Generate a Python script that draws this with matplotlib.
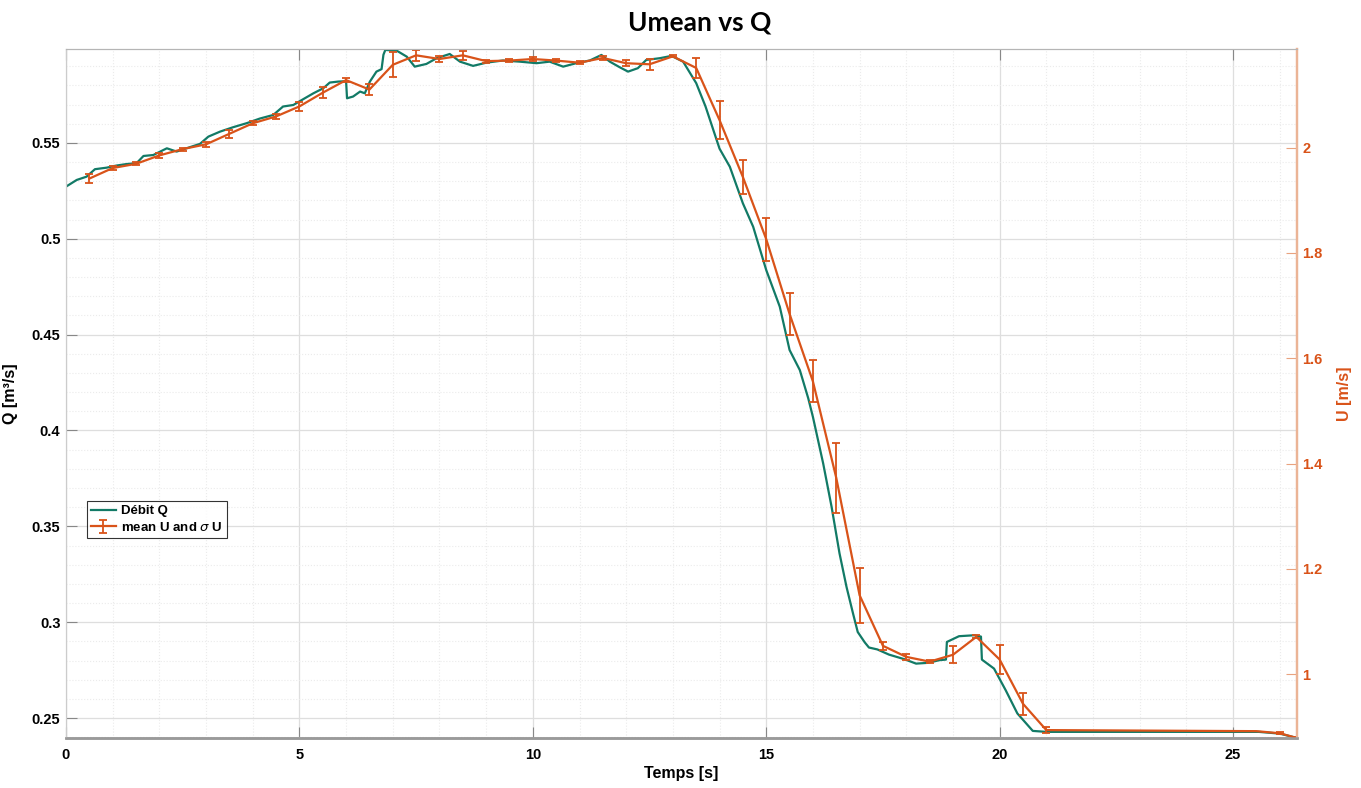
import numpy as np
import matplotlib
matplotlib.use("Agg")
import matplotlib.pyplot as plt
from matplotlib.ticker import MultipleLocator, FormatStrFormatter

# Debit Q (left axis)
t_q = [0.00, 0.23, 0.44, 0.62, 0.87, 1.08, 1.30, 1.51, 1.66, 1.87,
       2.16, 2.37, 2.58, 2.87, 3.05, 3.30, 3.58, 3.87, 4.15, 4.44,
       4.65, 4.87, 5.08, 5.30, 5.51, 5.65, 5.83, 6.00, 6.02, 6.15,
       6.30, 6.40, 6.51, 6.65, 6.76, 6.80, 6.84, 7.08, 7.30, 7.47,
       7.72, 7.94, 8.22, 8.44, 8.72, 9.01, 9.36, 9.72, 10.08, 10.36,
       10.65, 10.93, 11.22, 11.47, 11.65, 11.86, 12.04, 12.25, 12.43, 12.72,
       12.97, 13.22, 13.50, 13.70, 14.00, 14.22, 14.50, 14.72, 15.00, 15.29,
       15.50, 15.72, 15.90, 16.00, 16.22, 16.40, 16.57, 16.72, 16.86, 16.96,
       17.11, 17.20, 17.38, 17.63, 17.96, 18.21, 18.46, 18.71, 18.85, 18.87,
       19.13, 19.46, 19.60, 19.62, 19.88, 20.13, 20.38, 20.71, 21.00, 25.55,
       26.00, 26.37]
q = [0.5272, 0.5307, 0.5324, 0.5363, 0.5371, 0.5382, 0.5390, 0.5394, 0.5432, 0.5437,
     0.5472, 0.5455, 0.5472, 0.5495, 0.5533, 0.5559, 0.5582, 0.5603, 0.5627, 0.5646,
     0.5690, 0.5698, 0.5728, 0.5759, 0.5785, 0.5815, 0.5820, 0.5822, 0.5733, 0.5742,
     0.5768, 0.5759, 0.5820, 0.5872, 0.5885, 0.5960, 0.5985, 0.5982, 0.5950, 0.5898,
     0.5912, 0.5942, 0.5964, 0.5924, 0.5902, 0.5919, 0.5930, 0.5924, 0.5916, 0.5924,
     0.5898, 0.5916, 0.5930, 0.5959, 0.5924, 0.5895, 0.5872, 0.5890, 0.5933, 0.5942,
     0.5954, 0.5924, 0.5812, 0.5690, 0.5470, 0.5376, 0.5185, 0.5063, 0.4837, 0.4646,
     0.4420, 0.4315, 0.4168, 0.4071, 0.3828, 0.3602, 0.3359, 0.3184, 0.3045, 0.2949,
     0.2895, 0.2868, 0.2858, 0.2831, 0.2807, 0.2784, 0.2788, 0.2802, 0.2805, 0.2897,
     0.2927, 0.2932, 0.2925, 0.2805, 0.2758, 0.2645, 0.2524, 0.2433, 0.2428, 0.2428,
     0.2419, 0.2396]

# mean U and sigma U (right axis)
t_u = [0.5, 1.0, 1.5, 2.0, 2.5, 3.0, 3.5, 4.0, 4.5, 5.0,
       5.5, 6.0, 6.5, 7.0, 7.5, 8.0, 8.5, 9.0, 9.5, 10.0,
       10.5, 11.0, 11.5, 12.0, 12.5, 13.0, 13.5, 14.0, 14.5, 15.0,
       15.5, 16.0, 16.5, 17.0, 17.5, 18.0, 18.5, 19.0, 19.5, 20.0,
       20.5, 21.0, 25.5, 26.0, 26.37]
u_mean = [1.941, 1.961, 1.969, 1.985, 1.997, 2.006, 2.026, 2.046, 2.059, 2.078,
          2.104, 2.128, 2.110, 2.157, 2.175, 2.168, 2.175, 2.164, 2.165, 2.168,
          2.165, 2.161, 2.170, 2.160, 2.158, 2.173, 2.151, 2.052, 1.944, 1.826,
          1.684, 1.556, 1.373, 1.150, 1.054, 1.033, 1.024, 1.037, 1.071, 1.028,
          0.944, 0.894, 0.892, 0.888, 0.879]
u_std = [0.008, 0.003, 0.003, 0.004, 0.003, 0.005, 0.008, 0.004, 0.005, 0.008,
         0.010, 0.003, 0.011, 0.024, 0.010, 0.006, 0.008, 0.003, 0.003, 0.003,
         0.003, 0.003, 0.004, 0.006, 0.010, 0.002, 0.019, 0.036, 0.032, 0.041,
         0.040, 0.040, 0.066, 0.052, 0.008, 0.005, 0.003, 0.016, 0.003, 0.028,
         0.021, 0.006, np.nan, 0.002, 0.002]

green = '#127a66'
orange = '#d95319'

plt.rcParams['font.family'] = ['Liberation Sans', 'DejaVu Sans']

fig = plt.figure(figsize=(13.61, 7.88), dpi=100)
ax = fig.add_axes([66/1361, 50/788, (1297-66)/1361, (738-49)/788])
ax2 = ax.twinx()

l1, = ax.plot(t_q, q, color=green, lw=1.6, label='Débit Q')
eb = ax2.errorbar(t_u, u_mean, yerr=u_std, color=orange, lw=1.6, elinewidth=1.3,
                  capsize=3, capthick=1.3, label='mean U and $\\sigma$ U')

ax.set_xlim(0, 26.37)
ax.set_ylim(0.2396, 0.599)
ax2.set_ylim(0.879, 2.187)

ax.xaxis.set_major_locator(MultipleLocator(5))
ax.xaxis.set_minor_locator(MultipleLocator(1))
ax.yaxis.set_major_locator(MultipleLocator(0.05))
ax.yaxis.set_minor_locator(MultipleLocator(0.01))
ax2.yaxis.set_major_locator(MultipleLocator(0.2))
ax2.yaxis.set_minor_locator(MultipleLocator(0.2))
ax.xaxis.set_major_formatter(FormatStrFormatter('%g'))
ax.yaxis.set_major_formatter(FormatStrFormatter('%g'))
ax2.yaxis.set_major_formatter(FormatStrFormatter('%g'))

ax.grid(True, which='major', color='#dedede', lw=0.9)
ax.grid(True, which='minor', color='#ebebeb', lw=0.8, ls=':')
ax.set_axisbelow(True)

ax.tick_params(axis='x', which='major', direction='in', length=8, width=0.8,
               color='#888888', top=True, labelsize=10.5, pad=7)
ax.tick_params(axis='x', which='minor', length=0, top=False)
ax.tick_params(axis='y', which='major', direction='in', length=8, width=0.8,
               color='#888888', labelsize=10.5, pad=4)
ax.tick_params(axis='y', which='minor', length=0)
ax2.tick_params(axis='y', which='major', direction='in', length=8, width=0.8,
                color='#e9a27e', labelcolor=orange, labelsize=10.5, pad=4)
ax2.tick_params(axis='y', which='minor', length=0)
for lab in ax.get_xticklabels() + ax.get_yticklabels() + ax2.get_yticklabels():
    lab.set_fontweight('bold')

for a in (ax, ax2):
    a.spines['top'].set_color('#b5b5b5')
    a.spines['bottom'].set_color('#9a9a9a')
    a.spines['bottom'].set_linewidth(1.8)
    a.spines['left'].set_color('#cccccc')
    a.spines['right'].set_color('#ebb496')
    a.spines['right'].set_linewidth(1.6)

ax.set_xlabel('Temps [s]', fontsize=11.5, fontweight='bold', labelpad=3)
ax.set_ylabel('Q [m³/s]', fontsize=11.5, fontweight='bold', labelpad=10)
ax2.set_ylabel('U [m/s]', fontsize=11.5, fontweight='bold', color=orange, labelpad=10)

fig.text(700/1361, 1 - 22/788, 'Umean vs Q', ha='center', va='center',
         fontsize=19, fontweight='bold', family=['Lato', 'DejaVu Sans'])

leg = ax2.legend([l1, eb], ['Débit Q', 'mean U and $\\sigma$ U'], loc='lower left',
                 bbox_to_anchor=(0.0168, 0.2907), borderaxespad=0,
                 prop={'size': 9.5, 'weight': 'bold'},
                 frameon=True, fancybox=False, handlelength=1.9, handletextpad=0.4,
                 borderpad=0.3, labelspacing=0.25)
leg.get_frame().set_edgecolor('black')
leg.get_frame().set_linewidth(0.8)

fig.savefig('out.png', dpi=100)
